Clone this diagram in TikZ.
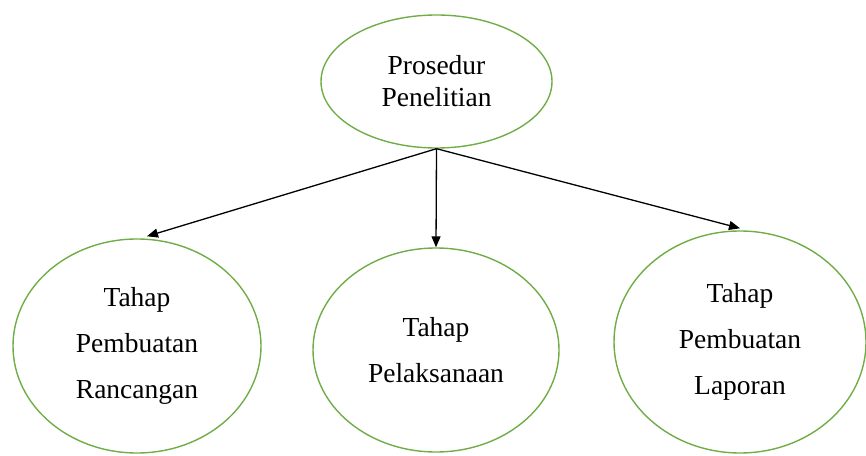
\documentclass[tikz,border=0pt]{standalone}
\usepackage{fontspec}
\setmainfont{Liberation Serif}
\usetikzlibrary{shapes.geometric,arrows.meta}
\definecolor{ogreen}{RGB}{112,173,71}
\begin{document}
\begin{tikzpicture}[x=1pt,y=1pt,
  oval/.style={ellipse,draw=ogreen,line width=1.4pt,inner sep=0pt,align=center},
  conn/.style={line width=1.3pt,-{Triangle[length=11pt,width=9pt]}}]
\useasboundingbox (0,0) rectangle (866,455);
\node[oval,minimum width=231pt,minimum height=133pt,font=\fontsize{27.5}{32}\selectfont] (top) at (436.5,373.5) {Prosedur\\Penelitian};
\node[oval,minimum width=248pt,minimum height=214pt,font=\fontsize{27.5}{46}\selectfont] (left) at (137,109) {Tahap\\Pembuatan\\Rancangan};
\node[oval,minimum width=246pt,minimum height=204pt,font=\fontsize{27.5}{46}\selectfont] (mid) at (436,105) {Tahap\\Pelaksanaan};
\node[oval,minimum width=252pt,minimum height=222pt,font=\fontsize{27.5}{46}\selectfont] (right) at (740,113) {Tahap\\Pembuatan\\Laporan};
\draw[conn] (top.south) -- ([xshift=10pt,yshift=2pt]left.north);
\draw[conn] (top.south) -- (mid.north);
\draw[conn] (top.south) -- ([yshift=2pt]right.north);
\end{tikzpicture}
\end{document}
